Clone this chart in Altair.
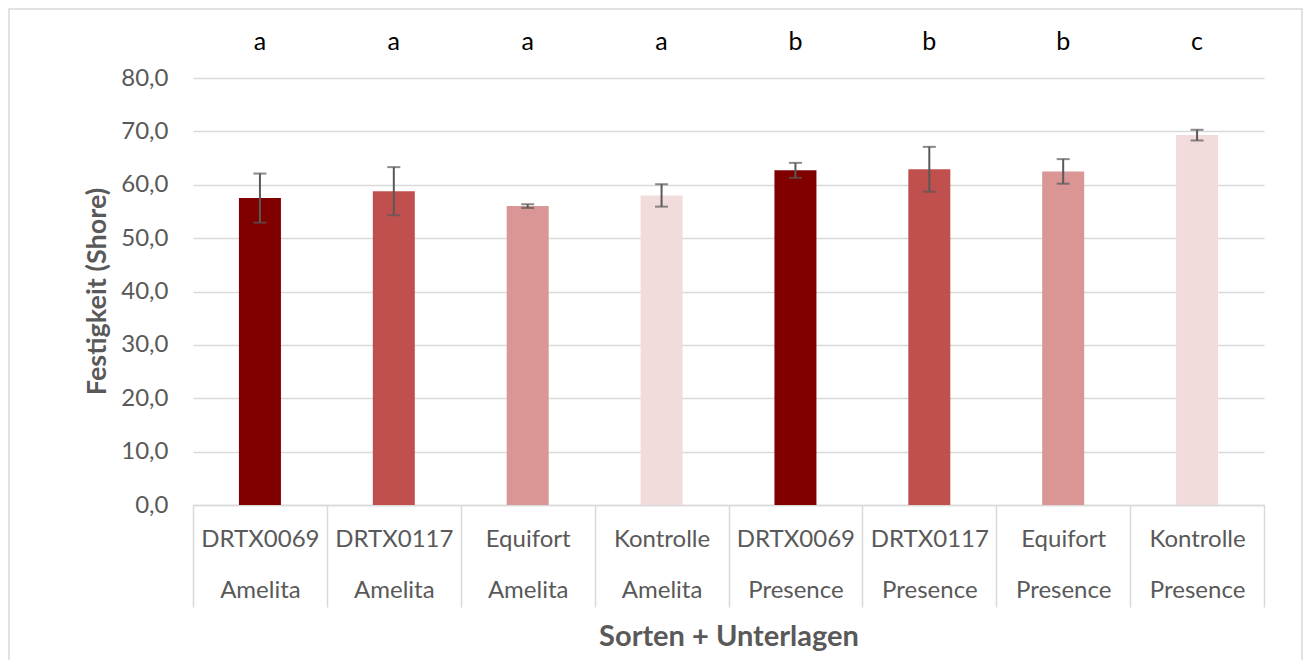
import altair as alt
import pandas as pd

sorten = ["DRTX0069", "DRTX0117", "Equifort", "Kontrolle",
          "DRTX0069", "DRTX0117", "Equifort", "Kontrolle"]
unterlagen = ["Amelita"] * 4 + ["Presence"] * 4
werte = [57.5, 58.8, 56.0, 58.0, 62.7, 62.9, 62.5, 69.3]
fehler = [4.6, 4.5, 0.35, 2.1, 1.4, 4.2, 2.3, 1.0]
buchstaben = ["a", "a", "a", "a", "b", "b", "b", "c"]
farben = ["#800000", "#C0504D", "#D99694", "#F2DCDB"]

labels = [f"{s}\n{u}" for s, u in zip(sorten, unterlagen)]
df = pd.DataFrame({
    "label": labels,
    "sorte": sorten,
    "wert": werte,
    "lo": [w - f for w, f in zip(werte, fehler)],
    "hi": [w + f for w, f in zip(werte, fehler)],
    "letter": buchstaben,
})

FONT = "Lato"
GRAY = "#595959"

x = alt.X("label:N", sort=labels, scale=alt.Scale(paddingInner=0, paddingOuter=0),
          axis=alt.Axis(title="Sorten + Unterlagen", labelExpr="split(datum.label, '\\n')",
                        labelAngle=0, labelFontSize=24, labelColor=GRAY, labelFont=FONT,
                        labelLineHeight=51, labelPadding=-80, tickBand="extent",
                        tickSize=102, tickColor="#d9d9d9", tickWidth=1.5,
                        domainColor="#d9d9d9", domainWidth=1.5,
                        titleFontSize=29, titleFont=FONT, titleColor=GRAY, titleFontWeight="bold",
                        titleY=131, titleBaseline="middle"))

y = alt.Y("wert:Q", scale=alt.Scale(domain=[0, 80]),
          axis=alt.Axis(title="Festigkeit (Shore)", values=list(range(0, 81, 10)),
                        labelExpr="replace(format(datum.value, '.1f'), '.', ',')",
                        labelFontSize=24, labelColor=GRAY, labelFont=FONT, labelPadding=25,
                        domain=False, ticks=False, gridColor="#d9d9d9", gridWidth=1.5,
                        titleFontSize=27, titleFont=FONT, titleColor=GRAY, titleFontWeight="bold",
                        titleX=-96, titleY=213, titleAlign="center", titleBaseline="middle"))

base = alt.Chart(df)

border = base.transform_filter("datum.label == '" + labels[0].replace("\n", "\\n") + "'").mark_rect(
    fill=None, stroke="#d9d9d9", strokeWidth=1.5, clip=False
).encode(x=alt.value(-184), x2=alt.value(1109), y=alt.value(-69), y2=alt.value(700))

bars = base.mark_bar(size=42).encode(
    x=x, y=y,
    color=alt.Color("sorte:N", scale=alt.Scale(domain=sorten[:4], range=farben), legend=None),
)
rules = base.mark_rule(color=GRAY, strokeWidth=2).encode(x=alt.X("label:N", sort=labels), y="lo:Q", y2="hi:Q")
caps_lo = base.mark_tick(color=GRAY, thickness=2, size=13, orient="horizontal").encode(
    x=alt.X("label:N", sort=labels), y="lo:Q")
caps_hi = base.mark_tick(color=GRAY, thickness=2, size=13, orient="horizontal").encode(
    x=alt.X("label:N", sort=labels), y="hi:Q")
letters = base.mark_text(fontSize=25, font=FONT, color="black", baseline="middle").encode(
    x=alt.X("label:N", sort=labels), y=alt.value(-36), text="letter:N")

chart = alt.layer(border, bars, rules, caps_lo, caps_hi, letters).properties(
    width=1071, height=427,
    padding={"left": 185, "top": 70, "right": 39, "bottom": 155},
    autosize=alt.AutoSizeParams(type="none"),
).configure_view(stroke=None)

chart.save("out.html", embed_options={"renderer": "svg", "actions": False})
